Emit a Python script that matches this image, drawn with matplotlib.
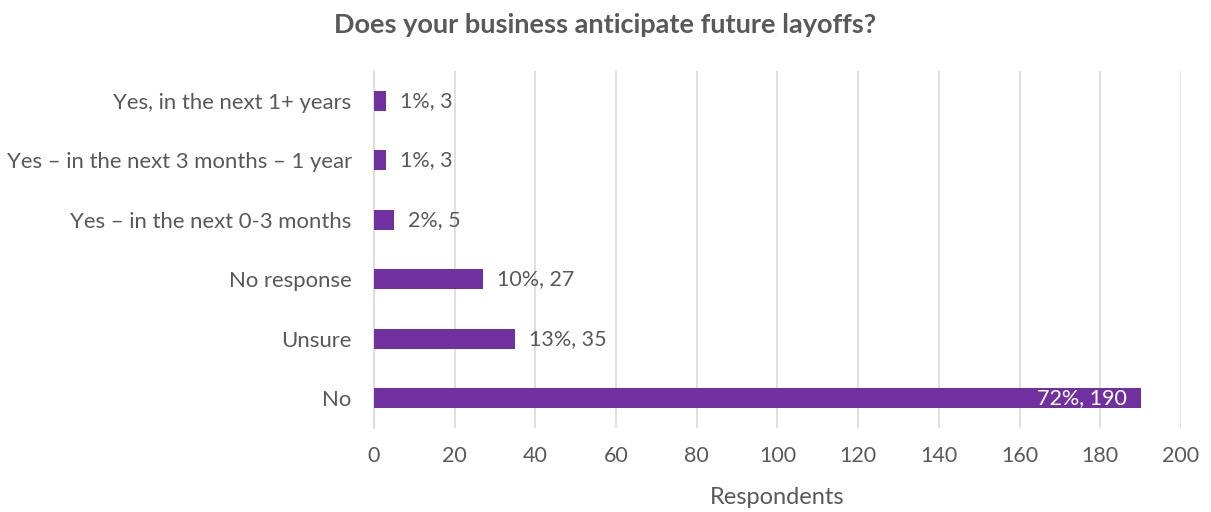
import matplotlib.pyplot as plt

plt.rcParams["font.family"] = ["Lato", "DejaVu Sans"]

# survey answers, top to bottom as shown
categories = [
    "Yes, in the next 1+ years",
    "Yes – in the next 3 months – 1 year",
    "Yes – in the next 0-3 months",
    "No response",
    "Unsure",
    "No",
]
counts = [3, 3, 5, 27, 35, 190]
percents = [1, 1, 2, 10, 13, 72]

bar_color = "#7030A0"
text_color = "#595959"

fig = plt.figure(figsize=(12.11, 5.12), dpi=100)
ax = fig.add_axes([0.3088, 0.164, 0.6664, 0.6973])

y = list(range(len(categories)))[::-1]
ax.barh(y, counts, height=0.34, color=bar_color, zorder=3)

for yi, c, p in zip(y, counts, percents):
    label = f"{p}%, {c}"
    if c > 150:
        ax.text(c - 3.5, yi, label, ha="right", va="center", color="white",
                fontsize=15.5, zorder=4)
    else:
        ax.text(c + 3.5, yi, label, ha="left", va="center", color=text_color,
                fontsize=15.5, zorder=4)

ax.set_xlim(0, 200)
ax.set_ylim(-0.5, 5.5)
ax.set_xticks(range(0, 201, 20))
ax.set_yticks(y)
ax.set_yticklabels(categories)
ax.tick_params(axis="both", length=0, labelsize=15.5, colors=text_color)
ax.tick_params(axis="y", labelsize=15.9, pad=16)
ax.tick_params(axis="x", pad=13)

ax.grid(axis="x", color="#d9d9d9", linewidth=1.2, zorder=0)
for side in ["top", "right", "bottom"]:
    ax.spines[side].set_visible(False)
ax.spines["left"].set_color("#d9d9d9")
ax.spines["left"].set_linewidth(1.2)

ax.set_xlabel("Respondents", fontsize=17, color=text_color, labelpad=15)
fig.suptitle("Does your business anticipate future layoffs?", fontsize=19.5,
             fontweight="bold", color=text_color, y=0.975)

fig.savefig("out.png", dpi=100)
